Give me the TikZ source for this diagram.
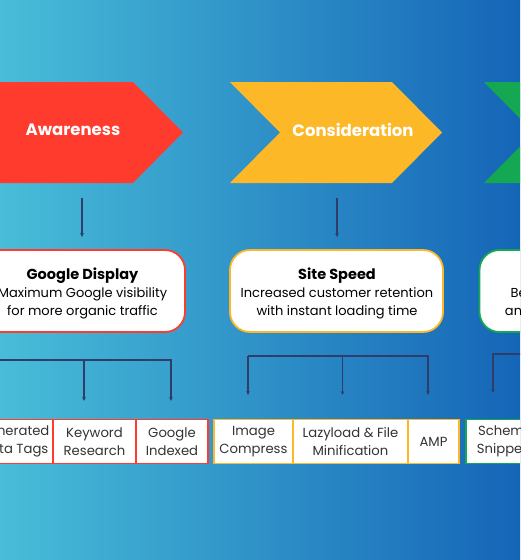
\documentclass[tikz,border=0pt]{standalone}
\usepackage{fontspec}
\setmainfont{Poppins}
\usetikzlibrary{arrows.meta, positioning}
\definecolor{bgleft}{HTML}{48BDD8}
\definecolor{bgright}{HTML}{1565B7}
\definecolor{stagered}{HTML}{FF3B2E}
\definecolor{stageyellow}{HTML}{FDB827}
\definecolor{stagegreen}{HTML}{15A853}
\definecolor{linknavy}{HTML}{2F3D6B}
\definecolor{celltext}{HTML}{333333}
\newcommand{\boxtitle}[1]{{\fontsize{14.5}{19}\selectfont\bfseries #1}}
\tikzset{
  stagetext/.style={text=white, font=\fontsize{16.5}{20}\selectfont\bfseries},
  infobox/.style={draw=#1, line width=1.8pt, fill=white, rounded corners=20pt,
      minimum width=213pt, minimum height=82pt, align=center,
      font=\fontsize{13}{18}\selectfont, text=black},
  cellbox/.style={draw=#1, line width=1.5pt, fill=white, minimum height=44pt,
      inner sep=0pt, outer sep=0pt, align=center,
      font=\fontsize{13.2}{18}\selectfont, text=celltext},
  flowarrow/.style={-{Stealth[length=4pt,width=3.6pt]}, line width=1.1pt, linknavy},
}

\begin{document}
\begin{tikzpicture}[x=1pt, y=-1pt]
        \useasboundingbox (0,0) rectangle (520,560);
        \clip (0,0) rectangle (520,560);
        \shade[left color=bgleft, right color=bgright] (0,0) rectangle (520,560);
        % stage chevrons
        \fill[stagered] (-30,82) -- (133,82) -- (183,132.5) -- (133,183) -- (-30,183) -- cycle;
        \fill[stageyellow] (230,82) -- (392,82) -- (442,132.5) -- (392,183) -- (230,183) -- (280,132.5) -- cycle;
        \fill[stagegreen] (484,82) -- (646,82) -- (696,132.5) -- (646,183) -- (484,183) -- (534,132.5) -- cycle;
        \node[stagetext] (aware) at (73,130) {Awareness};
        \node[stagetext] (consid) at (353,130) {Consideration};
        % info boxes
        \node[infobox=stagered] (gdisp) at (78.5,291)
            {};
        \node[align=center, font=\fontsize{13}{18}\selectfont] (gdisptxt) at (82.5,293.5)
            {\boxtitle{Google Display}\\Maximum Google visibility\\for more organic traffic};
        \node[infobox=stageyellow] (speed) at (336.5,291) {};
        \node[align=center, font=\fontsize{13}{18}\selectfont] (speedtxt) at (337,293.5)
            {\boxtitle{Site Speed}\\Increased customer retention\\with instant loading time};
        \node[infobox=stagegreen] (rich) at (586,291) {};
        \node[align=center, font=\fontsize{13}{18}\selectfont] (richtxt) at (586,293.5)
            {\boxtitle{Rich Results}\\Better search presence\\and higher click-through};
        \coordinate (a1) at (82,198);
        \coordinate (a2) at (337,198);
        \draw[flowarrow, shorten >=12pt] (a1) -- (a1 |- gdisp.north);
        \draw[flowarrow, shorten >=12pt] (a2) -- (a2 |- speed.north);
        % task cells
        \node[cellbox=stagered, minimum width=78pt] (gen) at (14,441.5) {Generated\\Meta Tags};
        \node[cellbox=stagered, minimum width=83pt, right=0pt of gen] (kw) {Keyword\\Research};
        \node[cellbox=stagered, minimum width=72pt, right=0pt of kw] (idx) {Google\\Indexed};
        \node[cellbox=stageyellow, minimum width=79pt] (img) at (253.5,441.5) {Image\\Compress};
        \node[cellbox=stageyellow, minimum width=115pt, right=0pt of img] (lazy) {Lazyload \& File\\Minification};
        \node[cellbox=stageyellow, minimum width=51pt, right=0pt of lazy] (amp) {AMP};
        \node[cellbox=stagegreen, minimum width=79pt] (schema) at (505.5,441.5) {Schema\\Snippets};
        % branch connectors
        \coordinate (g1bar) at (-10,360);
        \coordinate (genin) at ([xshift=-24pt,yshift=18.5pt]gen.north);
        \coordinate (kwin) at ([xshift=-10.5pt,yshift=18.5pt]kw.north);
        \coordinate (idxin) at ([xshift=-1pt,yshift=18.5pt]idx.north);
        \draw[flowarrow] (g1bar) -| (idxin);
        \draw[flowarrow] (g1bar -| kwin) -- (kwin);
        \draw[flowarrow] (g1bar -| genin) -- (genin);
        \coordinate (imgin) at ([xshift=-5.5pt,yshift=24.5pt]img.north);
        \coordinate (lazyin) at ([xshift=-8pt,yshift=24.5pt]lazy.north);
        \coordinate (ampin) at ([xshift=-5.5pt,yshift=24.5pt]amp.north);
        \coordinate (g2bar) at (imgin |- 0,356);
        \draw[flowarrow] (g2bar) -- (imgin);
        \draw[flowarrow] (g2bar) -| (ampin);
        \draw[flowarrow] (g2bar -| lazyin) -- (lazyin);
        \coordinate (g3bar) at (560,354);
        \coordinate (schemain) at ([xshift=-12.5pt,yshift=26.5pt]schema.north);
        \draw[flowarrow] (g3bar) -| (schemain);
      \end{tikzpicture}
\end{document}
